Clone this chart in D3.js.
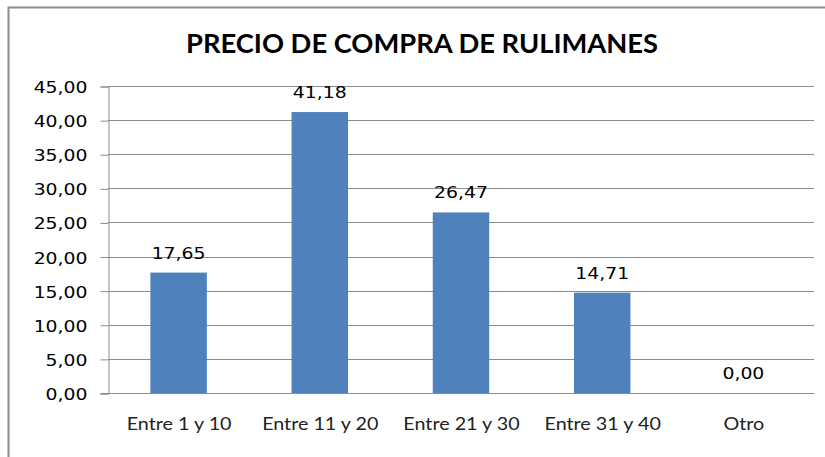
<!DOCTYPE html>
<html>
<head>
<meta charset="utf-8">
<script src="https://cdn.jsdelivr.net/npm/d3@7"></script>
<style>
  body { margin: 0; background: #fff; }
  svg { display: block; }
</style>
</head>
<body>
<svg width="825" height="457"></svg>
<script>
let categories = ['Entre 1 y 10', 'Entre 11 y 20', 'Entre 21 y 30', 'Entre 31 y 40', 'Otro']
let values = [17.65, 41.18, 26.47, 14.71, 0.00]
let yTicks = [0, 5, 10, 15, 20, 25, 30, 35, 40, 45]
let title = 'PRECIO DE COMPRA DE RULIMANES'

var svg = d3.select("svg")
var comma = (v) => v.toFixed(2).replace('.', ',')

// stretch text horizontally like the original (picture was widened)
let stretch = (sel, k) => {
  sel.each(function () {
    let w = this.getComputedTextLength()
    d3.select(this).attr('textLength', w * k).attr('lengthAdjust', 'spacingAndGlyphs')
  })
}

// outer chart border (right/bottom fall outside the picture)
svg.append('rect')
  .attr('x', 8.5).attr('y', 7.5)
  .attr('width', 840).attr('height', 470)
  .attr('fill', 'none')
  .attr('stroke', '#8c8c8c')
  .attr('stroke-width', 2)

let plotL = 108, plotR = 814, plotT = 86, plotB = 393

var x = d3.scaleBand().domain(categories).range([plotL, plotR]).paddingInner(0.6).paddingOuter(0.3)
var y = d3.scaleLinear().domain([0, 45]).range([plotB, plotT])

// title
svg.append('text')
  .attr('x', 422).attr('y', 53)
  .attr('text-anchor', 'middle')
  .style('font-family', 'Lato, "Open Sans", sans-serif')
  .style('font-weight', 'bold')
  .style('font-size', '27px')
  .attr('fill', '#000')
  .text(title)
  .attr('textLength', 472)
  .attr('lengthAdjust', 'spacingAndGlyphs')

// gridlines
svg.append('g')
  .selectAll('line')
  .data(yTicks.filter(d => d > 0))
  .enter()
  .append('line')
  .attr('x1', plotL).attr('x2', plotR)
  .attr('y1', d => Math.round(y(d)) + 0.5)
  .attr('y2', d => Math.round(y(d)) + 0.5)
  .attr('stroke', '#8c8c8c')
  .attr('stroke-width', 1)

// bars
svg.append('g')
  .selectAll('rect')
  .data(values)
  .enter()
  .append('rect')
  .attr('x', (d, i) => x(categories[i]))
  .attr('y', d => y(d))
  .attr('width', x.bandwidth())
  .attr('height', d => plotB - y(d))
  .attr('fill', '#4f81bd')

// y axis
var yAxis = svg.append('g')
  .attr('transform', `translate(${plotL + 0.5},0.5)`)
  .call(d3.axisLeft(y).tickValues(yTicks).tickSize(8).tickPadding(13).tickFormat(comma))
yAxis.select('.domain').attr('stroke', '#8c8c8c')
yAxis.selectAll('.tick line').attr('stroke', '#8c8c8c')
yAxis.selectAll('.tick text')
  .attr('fill', '#000')
  .attr('dy', '0.36em')
  .style('font-family', '"DejaVu Sans", Verdana, sans-serif')
  .style('font-size', '16.5px')
  .call(stretch, 1.14)

// x axis
var xAxis = svg.append('g')
  .attr('transform', `translate(0.5,${plotB + 0.5})`)
  .call(d3.axisBottom(x).tickSize(0).tickPadding(28))
xAxis.select('.domain').attr('stroke', '#8c8c8c').attr('d', `M${plotL - 8},0H${plotR}`)
xAxis.selectAll('.tick text')
  .attr('fill', '#222')
  .attr('dy', '0.5em')
  .style('font-family', 'Lato, "Open Sans", sans-serif')
  .style('font-size', '17px')
  .call(stretch, 1.16)

// value labels
svg.append('g')
  .selectAll('text')
  .data(values)
  .enter()
  .append('text')
  .attr('x', (d, i) => x(categories[i]) + x.bandwidth() / 2)
  .attr('y', d => y(d) - 14)
  .attr('text-anchor', 'middle')
  .attr('fill', '#000')
  .style('font-family', '"DejaVu Sans", Verdana, sans-serif')
  .style('font-size', '16.5px')
  .text(d => comma(d))
  .call(stretch, 1.14)
</script>
</body>
</html>
